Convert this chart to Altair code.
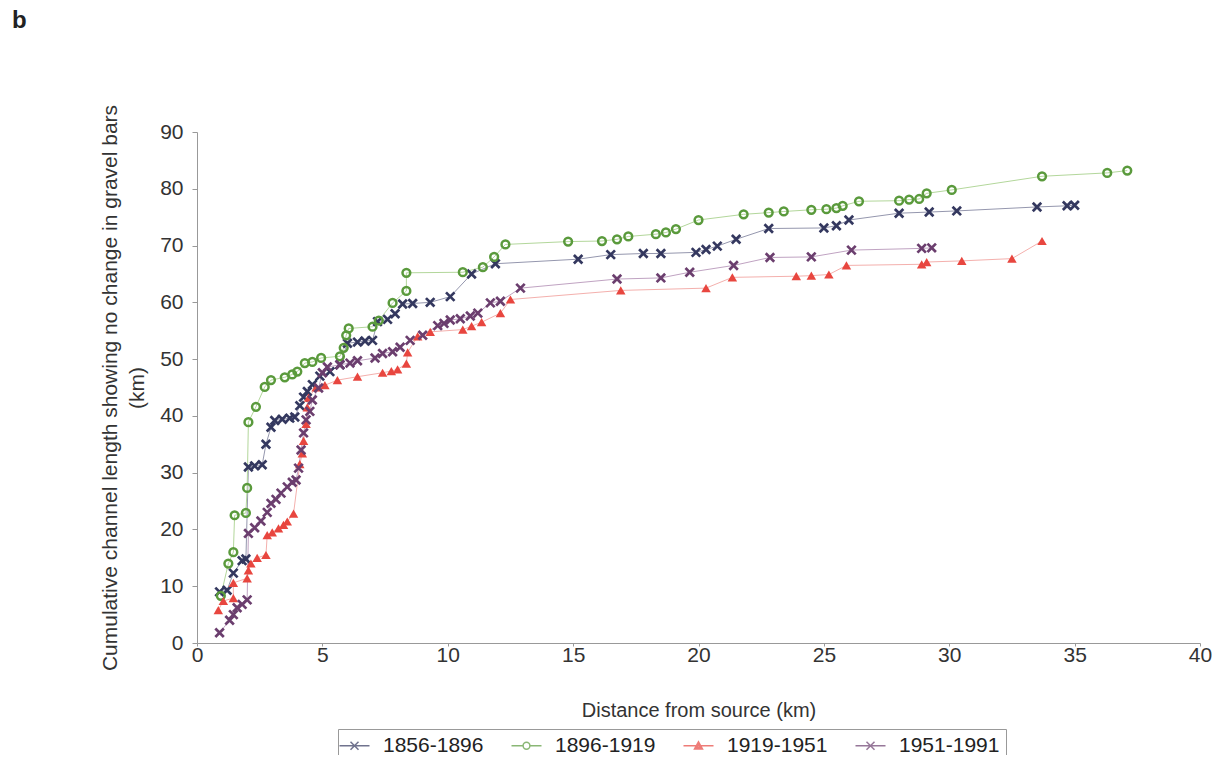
import altair as alt
import pandas as pd

FONT = "Liberation Sans"

series_names = ["1856-1896", "1896-1919", "1919-1951", "1951-1991"]

x_1856 = [0.9, 1.2, 1.45, 1.8, 1.95, 2.05, 2.3, 2.6, 2.75, 2.95, 3.1, 3.4, 3.7, 3.9, 4.1,
          4.25, 4.4, 4.6, 4.9, 5.3, 5.7, 6.0, 6.4, 6.7, 7.0, 7.2, 7.6, 7.9, 8.2, 8.6,
          9.3, 10.1, 10.95, 11.9, 15.2, 16.5, 17.8, 18.5, 19.9, 20.3, 20.75, 21.5, 22.8,
          25.0, 25.5, 26.0, 28.0, 29.2, 30.3, 33.5, 34.7, 35.0]
y_1856 = [9.0, 9.3, 12.3, 14.5, 14.8, 31.0, 31.2, 31.4, 35.0, 38.0, 39.2, 39.4, 39.6, 39.8, 41.8,
          43.3, 44.3, 45.5, 47.0, 47.8, 49.0, 52.8, 53.0, 53.2, 53.3, 56.6, 57.0, 58.0, 59.7, 59.8,
          60.0, 61.0, 65.0, 66.8, 67.6, 68.4, 68.6, 68.6, 68.8, 69.3, 69.9, 71.1, 73.0,
          73.1, 73.5, 74.5, 75.7, 75.9, 76.1, 76.8, 77.0, 77.1]

x_1896 = [0.95, 1.25, 1.45, 1.5, 1.95, 2.0, 2.05, 2.35, 2.7, 2.95, 3.5, 3.8, 4.0, 4.3, 4.6,
          4.95, 5.7, 5.85, 5.95, 6.05, 7.0, 7.25, 7.8, 8.35, 8.35, 10.6, 11.4, 11.85, 12.3, 14.8,
          16.15, 16.75, 17.2, 18.3, 18.7, 19.1, 20.0, 21.8, 22.8, 23.4, 24.5, 25.1, 25.5, 25.75,
          26.4, 28.0, 28.4, 28.8, 29.1, 30.1, 33.7, 36.3, 37.1]
y_1896 = [8.3, 14.0, 16.0, 22.5, 22.9, 27.3, 38.9, 41.6, 45.1, 46.3, 46.8, 47.3, 47.8, 49.3, 49.5,
          50.2, 50.5, 52.0, 54.2, 55.4, 55.7, 56.8, 59.9, 62.0, 65.2, 65.3, 66.2, 68.0, 70.2, 70.7,
          70.8, 71.1, 71.6, 72.0, 72.3, 72.9, 74.5, 75.5, 75.8, 76.0, 76.3, 76.4, 76.6, 77.0,
          77.8, 77.9, 78.1, 78.2, 79.2, 79.8, 82.2, 82.8, 83.2]

x_1919 = [0.85, 1.05, 1.45, 1.45, 2.0, 2.05, 2.15, 2.4, 2.75, 2.8, 3.0, 3.25, 3.45, 3.6, 3.85,
          4.1, 4.2, 4.25, 4.35, 4.4, 4.45, 4.75, 5.1, 5.6, 6.4, 7.4, 7.75, 8.0, 8.35, 8.4,
          8.8, 9.3, 10.6, 10.95, 11.35, 12.1, 12.5, 16.9, 20.3, 21.35, 23.9, 24.5, 25.2, 25.9,
          28.9, 29.1, 30.5, 32.5, 33.7]
y_1919 = [5.8, 7.4, 7.9, 10.6, 11.4, 12.8, 14.0, 15.0, 15.5, 19.0, 19.5, 20.2, 20.8, 21.4, 22.8,
          31.5, 33.4, 35.6, 38.6, 41.5, 43.2, 45.0, 45.4, 46.3, 46.9, 47.6, 47.9, 48.2, 49.2, 51.2,
          54.0, 54.8, 55.2, 55.8, 56.5, 58.1, 60.5, 62.1, 62.5, 64.4, 64.6, 64.7, 64.9, 66.5,
          66.7, 67.1, 67.3, 67.7, 70.8]

x_1951 = [0.9, 1.3, 1.45, 1.6, 1.8, 2.0, 2.05, 2.3, 2.55, 2.8, 2.95, 3.15, 3.35, 3.6, 3.8,
          3.95, 4.05, 4.15, 4.25, 4.35, 4.5, 4.6, 4.85, 5.0, 5.2, 5.7, 6.1, 6.4, 7.1, 7.4,
          7.8, 8.1, 8.5, 9.0, 9.6, 9.85, 10.1, 10.5, 10.9, 11.2, 11.7, 12.1, 12.9, 16.75,
          18.5, 19.65, 21.4, 22.85, 24.5, 26.1, 28.9, 29.3]
y_1951 = [1.8, 4.0, 5.0, 6.2, 6.8, 7.6, 19.3, 20.3, 21.5, 23.0, 24.6, 25.3, 26.4, 27.5, 28.3,
          28.7, 30.8, 34.0, 37.0, 39.3, 40.8, 42.8, 44.9, 47.6, 48.6, 49.0, 49.3, 49.7, 50.2, 51.0,
          51.3, 52.1, 53.3, 54.2, 55.9, 56.3, 56.9, 57.1, 57.6, 58.1, 59.9, 60.2, 62.5, 64.1,
          64.3, 65.3, 66.5, 67.9, 68.0, 69.2, 69.5, 69.6]

x_ticks = [0, 5, 10, 15, 20, 25, 30, 35, 40]
y_ticks = [0, 10, 20, 30, 40, 50, 60, 70, 80, 90]

marker_colors = ["#34385f", "#5a9a3c", "#e8463f", "#6b3e6e"]
line_colors = ["#9597ae", "#b3d79b", "#f4b0ad", "#c0a3c2"]

X_PATH = "M-1,-1L1,1M-1,1L1,-1"
marker_shapes = [X_PATH, "circle", "triangle-up", X_PATH]
marker_sizes = [72, 60, 90, 72]
marker_filled = [False, False, True, False]
marker_stroke = [2.7, 2.5, 1.0, 2.7]

legend_paths = [
    "M-3.75,0L3.75,0M-1,-1L1,1M-1,1L1,-1",
    "M-3.75,0L-0.85,0M0.85,0L3.75,0M-0.85,0A0.85,0.85 0 1,0 0.85,0A0.85,0.85 0 1,0 -0.85,0",
    "M-3.75,0L-0.6,0M0.6,0L3.75,0M0,-1L1,0.8L-1,0.8Z M0,-0.35L0.4,0.45L-0.4,0.45Z",
    "M-3.75,0L3.75,0M-1,-1L1,1M-1,1L1,-1",
]

rows = []
for name, xs, ys in zip(series_names, [x_1856, x_1896, x_1919, x_1951],
                        [y_1856, y_1896, y_1919, y_1951]):
    for i, (a, b) in enumerate(zip(xs, ys)):
        rows.append({"series": name, "x": a, "y": b, "idx": i})
df = pd.DataFrame(rows)

base = alt.Chart(df).encode(
    x=alt.X("x:Q", scale=alt.Scale(domain=[0, 40], nice=False),
            axis=alt.Axis(values=x_ticks, title="Distance from source (km)", tickSize=3,
                          labelPadding=-2, titlePadding=35, labelFlush=False)),
    y=alt.Y("y:Q", scale=alt.Scale(domain=[0, 90], nice=False),
            axis=alt.Axis(values=y_ticks,
                          title=["Cumulative channel length showing no change in gravel bars", "(km)"],
                          tickSize=5, labelPadding=9, titlePadding=12, titleLineHeight=27,
                          titleFontSize=21, labelFlush=False)),
)

leg = alt.Legend(
    title=None, orient="none", legendX=141, legendY=597, direction="horizontal", columns=4,
    symbolSize=64, symbolStrokeWidth=1.5, labelFontSize=21, labelFont=FONT,
    labelColor="#222", labelOffset=18, columnPadding=24, padding=6, strokeColor="#999",
    fillColor="white",
)

# legend-only layer: no data rows survive the filter, the legend is built from the scale domains
legend_layer = base.transform_filter("datum.x > 1000").mark_point(filled=False, strokeWidth=1.5).encode(
    color=alt.Color("series:N", scale=alt.Scale(domain=series_names, range=marker_colors), legend=leg),
    shape=alt.Shape("series:N", scale=alt.Scale(domain=series_names, range=legend_paths), legend=leg),
)

lines = base.mark_line(strokeWidth=1.0).encode(
    stroke=alt.Stroke("series:N", scale=alt.Scale(domain=series_names, range=line_colors), legend=None),
    detail="series:N",
    order="idx:Q",
)

point_layers = []
for i, name in enumerate(series_names):
    point_layers.append(
        base.transform_filter(alt.datum.series == name).mark_point(
            shape=marker_shapes[i], filled=marker_filled[i], size=marker_sizes[i],
            strokeWidth=marker_stroke[i], opacity=1, color=marker_colors[i]
        )
    )

chart = alt.layer(legend_layer, lines, *point_layers).properties(
    width=1003, height=511,
    autosize=alt.AutoSizeParams(type="none"),
    padding={"left": 189, "top": 124, "right": 12, "bottom": 112},
    title=alt.TitleParams("b", anchor="start", frame="group", dx=-185, offset=71,
                          fontSize=24, fontWeight="bold", font=FONT, color="#222"),
).configure_view(stroke=None).configure_axis(
    grid=False, labelFont=FONT, labelFontSize=21, labelColor="#333", titleFont=FONT,
    titleFontSize=20, titleFontWeight="normal", titleColor="#333", domainColor="#999",
    tickColor="#999",
)

chart.save("out.html", embed_options={"renderer": "svg", "actions": False})
